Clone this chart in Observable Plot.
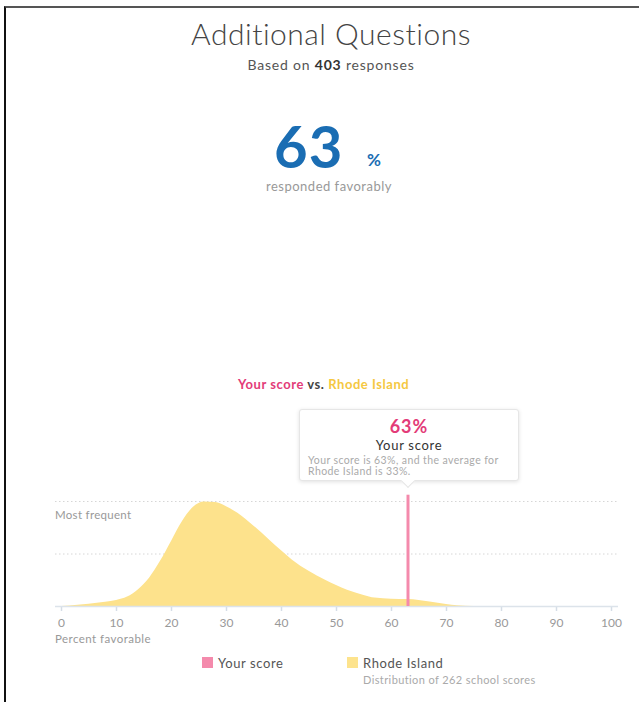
<!DOCTYPE html>
<html>
<head>
<meta charset="utf-8">
<script src="https://cdn.jsdelivr.net/npm/d3@7"></script>
<script src="https://cdn.jsdelivr.net/npm/@observablehq/plot@0.6"></script>
<style>
  html, body { margin: 0; padding: 0; background: #fff; }
  body { font-family: Lato, "Open Sans", sans-serif; }
  #page { position: relative; width: 639px; height: 702px; overflow: hidden; }
  #frame { position: absolute; left: 4px; top: 6px; width: 640px; height: 700px;
           border-left: 2px solid #111; border-top: 2px solid #555; }
  .abs { position: absolute; white-space: nowrap; line-height: 1.15; }
  .center { left: 0; width: 662px; text-align: center; }
  #title { top: 16px; font-size: 30px; font-weight: 300; color: #444; letter-spacing: 0.5px; }
  #sub { top: 57px; font-size: 14px; color: #555; letter-spacing: 0.8px; }
  #sub b { color: #333; }
  #big { top: 117px; left: 274px; font-size: 58px; line-height: 58px; font-weight: 700; color: #1a6db3; letter-spacing: 1px; }
  #pct { top: 150px; left: 367px; font-size: 17px; font-weight: 700; color: #1a6db3; }
  #resp { top: 179px; left: 0; width: 658px; text-align: center; font-size: 13px; color: #999; letter-spacing: 0.5px; }
  #vs { top: 377px; left: 238px; font-size: 13px; font-weight: 700; color: #444; letter-spacing: 0.55px; }
  #tip { left: 299px; top: 409px; width: 220px; height: 72px; background: #fff; border: 1px solid #e6e6e6;
         border-radius: 3px; box-shadow: 0 1px 4px rgba(0,0,0,0.12); box-sizing: border-box; }
  #tip .arrow { position: absolute; left: 103px; top: 66px; width: 9px; height: 9px; background: #fff;
         border-right: 1px solid #e6e6e6; border-bottom: 1px solid #e6e6e6; transform: rotate(45deg); }
  #tipPct { top: 7px; left: 0; width: 218px; text-align: center; font-size: 18px; line-height: 18px; font-weight: 700; color: #e33b78; letter-spacing: 1px; }
  #tipLab { top: 29px; left: 0; width: 218px; text-align: center; font-size: 13px; line-height: 13px; color: #333; letter-spacing: 0.7px; }
  #tipTxt { top: 45px; left: 8px; font-size: 10.5px; line-height: 10.5px; color: #aaa; letter-spacing: 0.4px; }
  #chart { position: absolute; left: 0; top: 470px; }
  #most { top: 508px; left: 55px; font-size: 11.5px; color: #999; letter-spacing: 0.3px; }
  #pfav { top: 632px; left: 55px; font-size: 11.5px; color: #999; letter-spacing: 0.45px; }
  .sw { position: absolute; width: 11px; height: 11px; }
  #leg1 { top: 656px; left: 218px; font-size: 13px; color: #555; letter-spacing: 0.6px; }
  #leg2 { top: 656px; left: 363px; font-size: 13px; color: #555; letter-spacing: 0.6px; }
  #leg3 { top: 674px; left: 363px; font-size: 11px; color: #aaa; letter-spacing: 0.4px; }
  g[aria-label="x-axis tick"] path { stroke: #d5dde6; stroke-width: 1.5; }
  g[aria-label="x-axis tick label"] text { fill: #999; }
</style>
</head>
<body>
<div id="page">
  <div id="frame"></div>
  <div id="title" class="abs center">Additional Questions</div>
  <div id="sub" class="abs center">Based on <b>403</b> responses</div>
  <div id="big" class="abs">63</div>
  <div id="pct" class="abs">%</div>
  <div id="resp" class="abs">responded favorably</div>
  <div id="vs" class="abs"><span style="color:#e33b78">Your score</span> vs. <span style="color:#f5c842">Rhode Island</span></div>
  <div id="chart"></div>
  <div id="tip" class="abs">
    <div class="arrow"></div>
    <div id="tipPct" class="abs">63%</div>
    <div id="tipLab" class="abs">Your score</div>
    <div id="tipTxt" class="abs">Your score is 63%, and the average for<br>Rhode Island is 33%.</div>
  </div>
  <div id="most" class="abs">Most frequent</div>
  <div id="pfav" class="abs">Percent favorable</div>
  <div class="sw" style="left:202px; top:657px; background:#f48aac"></div>
  <div id="leg1" class="abs">Your score</div>
  <div class="sw" style="left:347px; top:657px; background:#fde38d"></div>
  <div id="leg2" class="abs">Rhode Island</div>
  <div id="leg3" class="abs">Distribution of 262 school scores</div>
</div>
<script>
// Distribution of Rhode Island school scores (relative frequency, 1 = most frequent)
const scorePercent = [0, 3, 5, 8, 10, 12, 14, 16, 18, 20, 22, 24, 26, 28, 30, 32, 35, 38, 40, 42, 45, 48, 50, 52, 55, 57, 60, 63, 65, 67, 70, 72, 75];
const relFrequency = [0, 0.012, 0.022, 0.04, 0.058, 0.09, 0.16, 0.27, 0.43, 0.62, 0.81, 0.945, 0.995, 0.99, 0.95, 0.89, 0.765, 0.625, 0.53, 0.44, 0.335, 0.25, 0.2, 0.155, 0.105, 0.08, 0.07, 0.066, 0.058, 0.042, 0.02, 0.008, 0];
const yourScore = [63];
const gridLevels = [0.5, 1];
const xTicks = [0, 10, 20, 30, 40, 50, 60, 70, 80, 90, 100];

const dist = scorePercent.map((x, i) => ({x, y: relFrequency[i]}));

const chart = Plot.plot({
  width: 639,
  height: 180,
  marginLeft: 61,
  marginRight: 28,
  marginTop: 31,
  marginBottom: 44,
  style: {fontFamily: "Lato, 'Open Sans', sans-serif", fontSize: "12px", background: "transparent", overflow: "visible"},
  x: {domain: [0, 100], ticks: xTicks, tickSize: 5, tickPadding: 7, label: null},
  y: {domain: [0, 1], axis: null},
  marks: [
    Plot.ruleY(gridLevels, {stroke: "#d6d6d6", strokeDasharray: "1.5,2.5", insetLeft: -6, insetRight: -7}),
    Plot.areaY(dist, {x: "x", y: "y", fill: "#fde28c", curve: "monotone-x"}),
    Plot.ruleY([0], {stroke: "#dce3ea", strokeWidth: 1.5, insetLeft: -6, insetRight: -7}),
    Plot.ruleX(yourScore, {y1: 0, y2: 1.06, stroke: "#f48aac", strokeWidth: 3})
  ]
});
document.getElementById("chart").appendChild(chart);
</script>
</body>
</html>
